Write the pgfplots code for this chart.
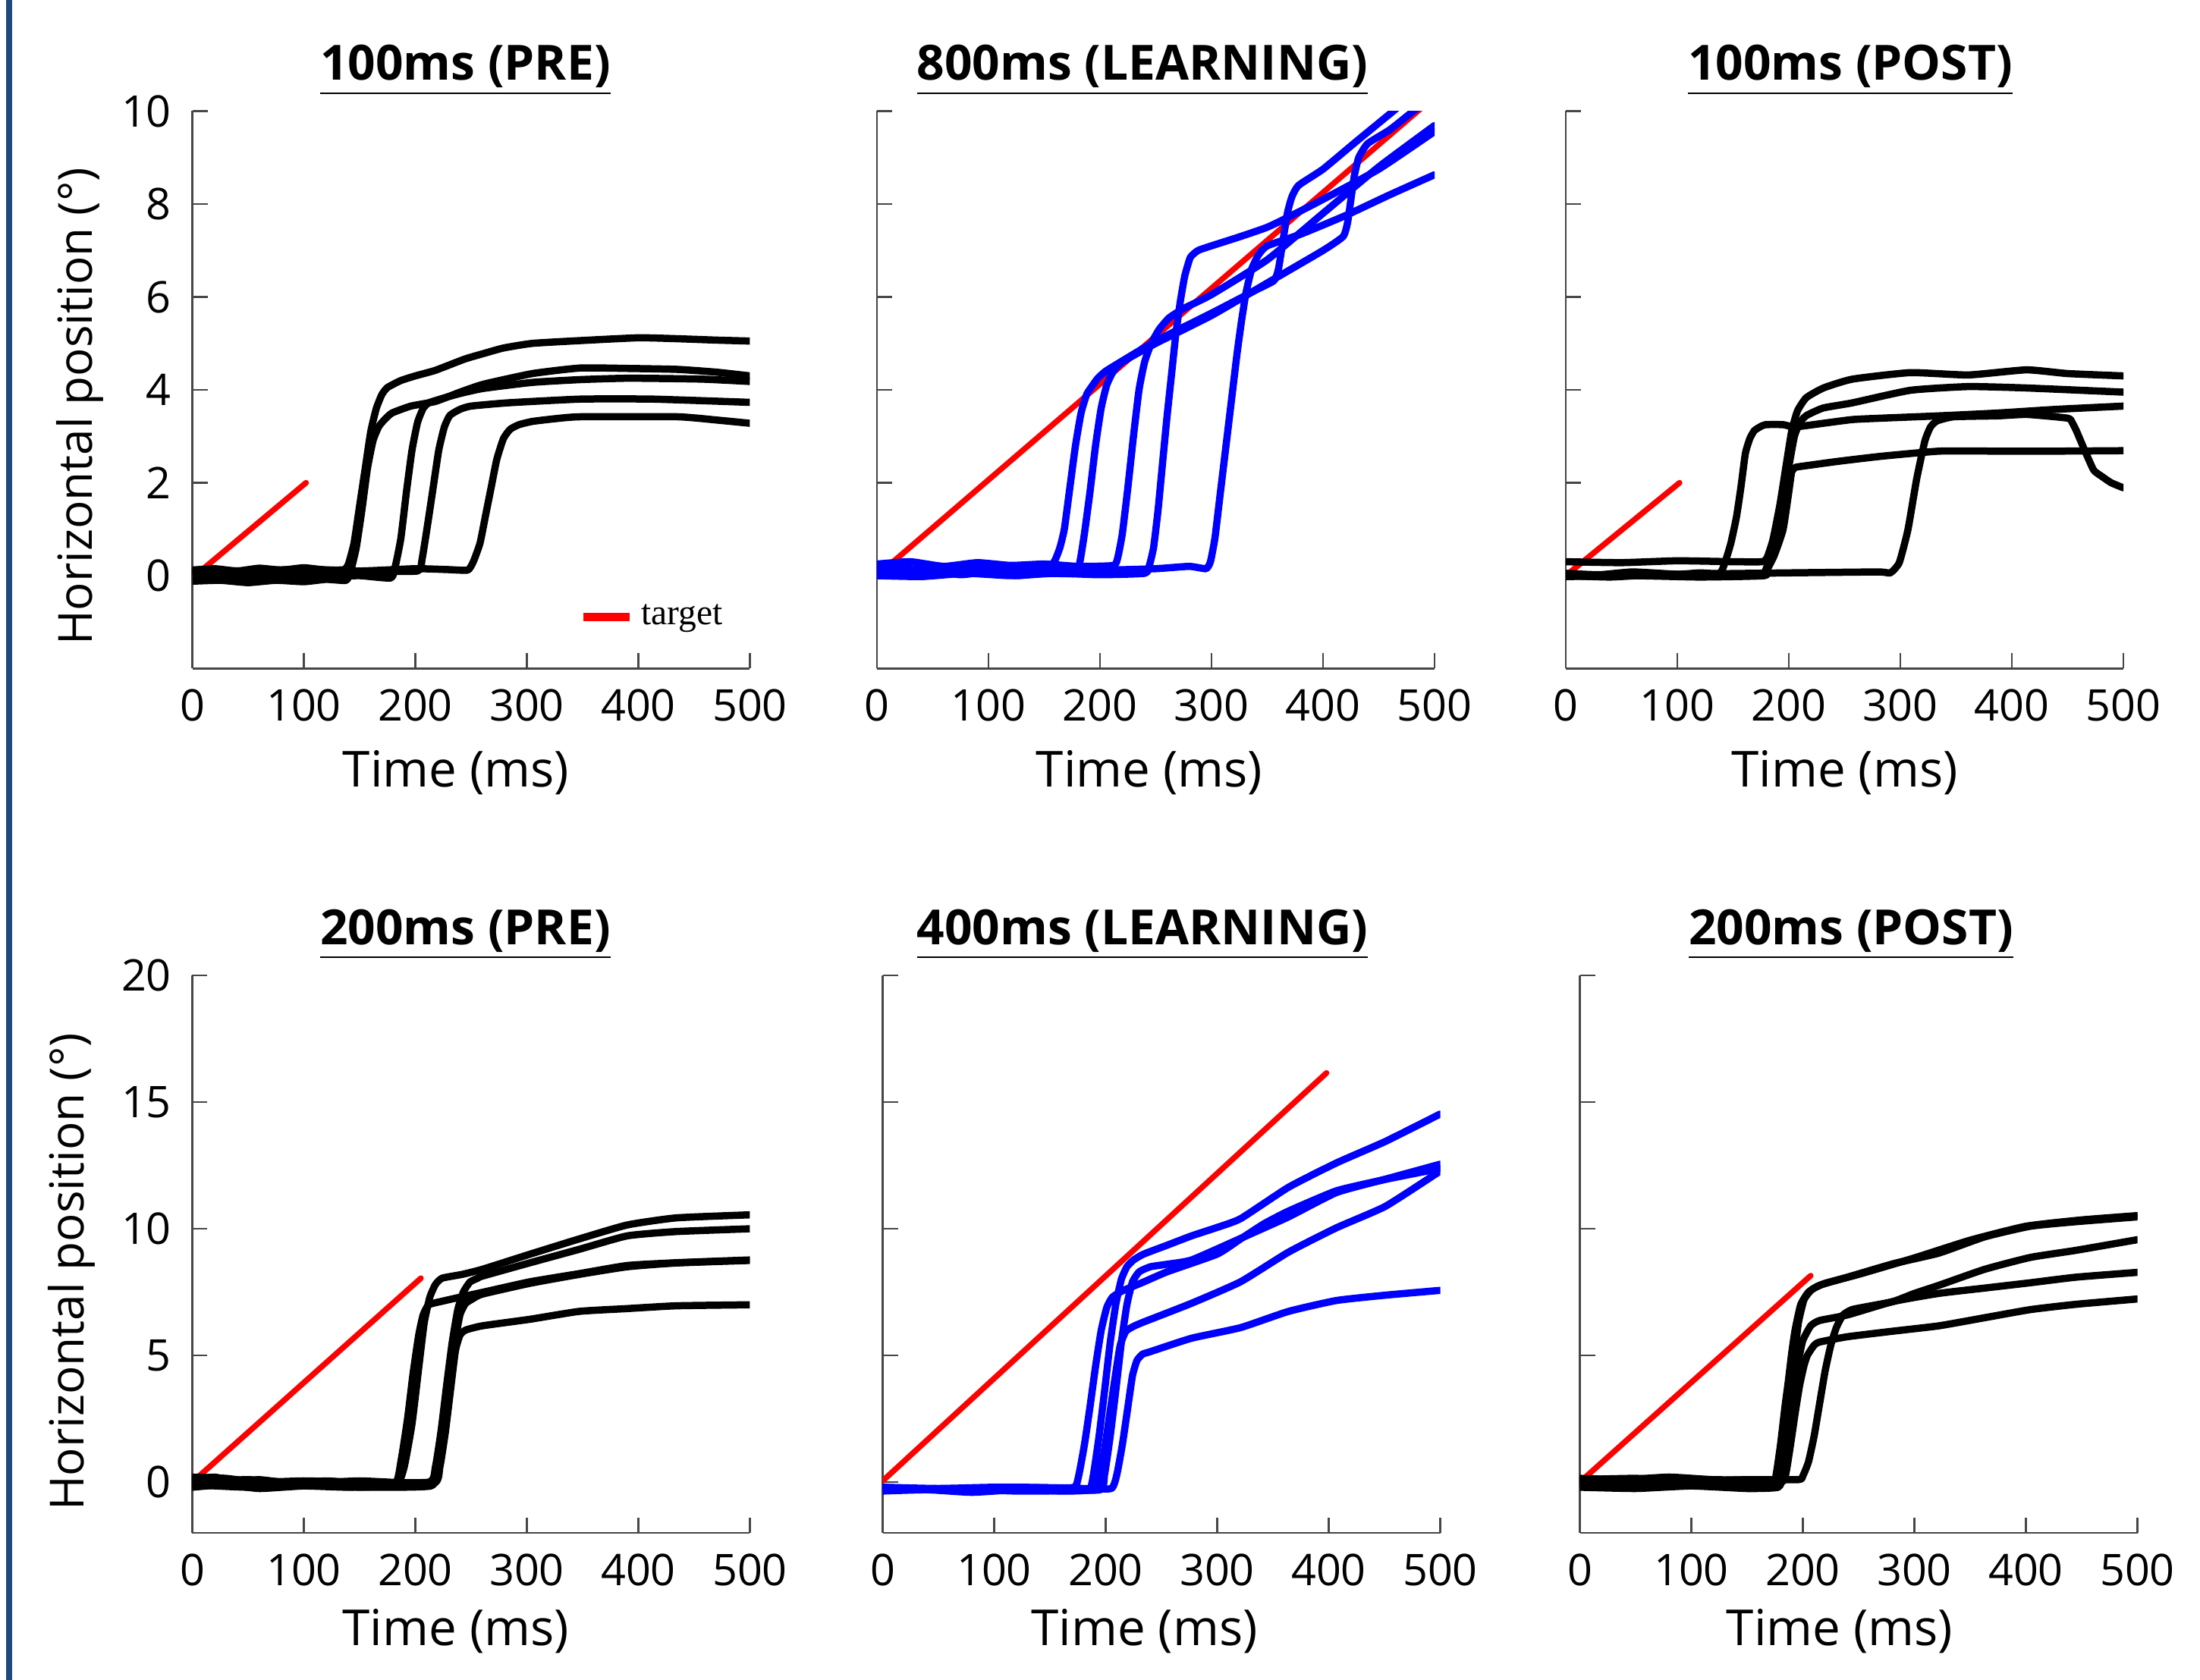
\documentclass[border=0pt]{standalone}
\usepackage{fontspec}
\setmainfont{Open Sans}
\newfontfamily\serifleg{Liberation Serif}
\usepackage{pgfplots}
\pgfplotsset{compat=1.18}
\definecolor{barblue}{RGB}{31,73,125}
\definecolor{axgray}{RGB}{70,70,70}
\pgfplotsset{
  every non boxed x axis/.style={},
  every non boxed y axis/.style={},
  panel/.style={
    scale only axis, width=147pt, height=147pt, anchor=south west,
    axis x line*=bottom, axis y line*=left,
    axis line style={-, draw=axgray, line width=0.5pt},
    tick align=inside, major tick length=4pt,
    tick style={draw=axgray, line width=0.5pt},
    xmin=0, xmax=500, xtick={0,100,200,300,400,500},
    /pgf/number format/assume math mode=true,
    ticklabel style={font=\fontsize{11.5}{12}\selectfont},
    xticklabel style={yshift=-2pt},
    yticklabel style={xshift=-2pt},
    xlabel={Time (ms)},
    every axis x label/.style={at={(axis description cs:0.5,-0.186)}, anchor=center, font=\fontsize{13.1}{14}\selectfont},
    every axis y label/.style={at={(axis description cs:-0.201,0.47)}, rotate=90, anchor=center, font=\fontsize{12.4}{13}\selectfont},
    title style={font=\bfseries\fontsize{12.8}{13}\selectfont, at={(0.5,1)}, anchor=south, yshift=-5.4pt},
    clip=true,
  },
  toprow/.style={panel, ymin=-2, ymax=10, ytick={0,2,4,6,8,10}},
  botrow/.style={panel, ymin=-2, ymax=20, ytick={0,5,10,15,20},
    every axis x label/.style={at={(axis description cs:0.5,-0.176)}, anchor=center, font=\fontsize{13.1}{14}\selectfont},
    every axis y label/.style={at={(axis description cs:-0.216,0.468)}, rotate=90, anchor=center, font=\fontsize{12.4}{13}\selectfont}},
  blk/.style={black, line width=1.9pt, line join=round, line cap=round, smooth, tension=0.3},
  blu/.style={blue, line width=1.9pt, line join=round, line cap=round, smooth, tension=0.3},
  tgt/.style={red, line width=1.5pt, line cap=round},
}
\begin{document}
\begin{tikzpicture}
\path[use as bounding box] (0,0) rectangle (580pt,443pt);
\fill[barblue] (1.5pt,0pt) rectangle (3.1pt,443pt);

% ---------- 100ms (PRE)
\begin{axis}[toprow, at={(50.7pt,266.7pt)}, title={\underline{100ms (PRE)}},
  title style={xshift=-1.5pt}, xlabel style={xshift=-4pt},
  ylabel={Horizontal position (°)},
  legend style={at={(0.672,0.092)}, anchor=west, draw=none, fill=none,
    font=\serifleg\fontsize{9.5}{10}\selectfont},
  legend image code/.code={\draw[#1] (0cm,0cm) -- (0.43cm,0cm);}]
\addlegendimage{red, line width=2.2pt}
\addlegendentry{target}
\addplot[tgt, forget plot] coordinates {(0,-0.05) (102,2.0)};
\addplot[blk, forget plot] coordinates {(0,0.12) (20,0.15) (40,0.1) (60,0.16) (80,0.12) (100,0.17) (120,0.12) (136,0.13) (140,0.25) (145,0.7) (150,1.5) (155,2.3) (160,3.1) (165,3.6) (170,3.9) (175,4.05) (187,4.2) (200,4.3) (218,4.42) (244,4.66) (261,4.78) (279,4.9) (305,5.0) (348,5.06) (400,5.12) (435,5.1) (470,5.07) (500,5.05)};
\addplot[blk, forget plot] coordinates {(0,-0.12) (25,-0.1) (50,-0.15) (75,-0.1) (100,-0.13) (120,-0.08) (138,-0.1) (142,0.1) (147,0.6) (152,1.4) (157,2.3) (162,2.9) (167,3.2) (172,3.35) (179,3.5) (196,3.65) (218,3.75) (240,3.95) (261,4.12) (305,4.35) (348,4.47) (392,4.46) (435,4.44) (470,4.38) (500,4.3)};
\addplot[blk, forget plot] coordinates {(0,0.0) (30,0.03) (60,-0.03) (90,0.02) (120,-0.02) (150,0.0) (178,-0.05) (182,0.2) (187,0.8) (192,1.8) (197,2.7) (202,3.3) (207,3.6) (212,3.72) (225,3.82) (240,3.92) (261,4.03) (305,4.16) (348,4.22) (392,4.25) (457,4.23) (500,4.18)};
\addplot[blk, forget plot] coordinates {(0,0.08) (40,0.05) (80,0.1) (120,0.06) (160,0.1) (202,0.1) (206,0.35) (211,1.1) (216,1.9) (221,2.7) (226,3.2) (231,3.45) (240,3.58) (250,3.65) (283,3.72) (348,3.8) (413,3.8) (500,3.73)};
\addplot[blk, forget plot] coordinates {(0,0.12) (50,0.1) (100,0.14) (150,0.1) (200,0.15) (230,0.13) (247,0.12) (252,0.3) (258,0.7) (263,1.3) (268,1.9) (273,2.5) (279,2.95) (285,3.15) (293,3.25) (305,3.32) (326,3.38) (348,3.42) (435,3.42) (470,3.35) (500,3.28)};
\end{axis}

% ---------- 800ms (LEARNING)
\begin{axis}[toprow, at={(231.2pt,266.7pt)}, title={\underline{800ms (LEARNING)}}, title style={xshift=-3.5pt}, xlabel style={xshift=-1.7pt}, yticklabels={}]
\addplot[tgt] coordinates {(0,0) (500,10.31)};
\addplot[blu] coordinates {(0,0.15) (20,0.2) (40,0.1) (60,0.18) (80,0.12) (100,0.2) (120,0.15) (140,0.2) (152,0.18) (156,0.2) (160,0.35) (164,0.6) (168,1.0) (173,1.9) (178,2.8) (183,3.5) (188,3.9) (192,4.05) (198,4.25) (205,4.4) (215,4.55) (250,5.05) (300,5.65) (340,6.15) (356,6.35) (360,6.6) (364,7.2) (368,7.8) (372,8.15) (378,8.4) (400,8.75) (430,9.35) (463,10.0) (475,10.25)};
\addplot[blu] coordinates {(0,0.05) (25,0.0) (50,0.1) (75,0.02) (100,0.08) (125,0.0) (150,0.05) (178,0.05) (182,0.3) (186,0.9) (191,1.8) (196,2.8) (201,3.6) (206,4.1) (212,4.4) (220,4.6) (250,5.0) (300,5.6) (350,6.3) (400,7.0) (418,7.3) (422,7.6) (425,8.1) (428,8.6) (432,9.0) (440,9.3) (460,9.6) (481,10.0) (495,10.25)};
\addplot[blu] coordinates {(0,0.25) (30,0.3) (60,0.2) (90,0.28) (120,0.22) (150,0.25) (180,0.2) (212,0.22) (216,0.4) (220,0.9) (225,1.9) (230,3.0) (235,4.0) (240,4.6) (246,5.0) (253,5.3) (262,5.55) (275,5.75) (300,6.05) (350,6.8) (400,7.8) (450,8.8) (500,9.69)};
\addplot[blu] coordinates {(0,0.0) (40,-0.02) (80,0.05) (120,0.0) (160,0.05) (200,0.02) (240,0.05) (244,0.2) (248,0.6) (252,1.4) (256,2.4) (260,3.4) (264,4.3) (268,5.2) (272,5.9) (276,6.45) (281,6.85) (288,7.0) (300,7.1) (326,7.3) (350,7.5) (370,7.73) (400,8.1) (450,8.75) (500,9.56)};
\addplot[blu] coordinates {(0,0.12) (50,0.15) (100,0.1) (150,0.18) (200,0.12) (250,0.15) (280,0.2) (295,0.15) (299,0.3) (303,0.8) (307,1.6) (311,2.4) (315,3.2) (319,4.0) (323,4.8) (327,5.5) (331,6.1) (336,6.6) (342,6.9) (350,7.1) (380,7.35) (420,7.75) (460,8.2) (500,8.63)};
\end{axis}

% ---------- 100ms (POST)
\begin{axis}[toprow, at={(412.8pt,266.7pt)}, title={\underline{100ms (POST)}}, title style={xshift=1.5pt}, yticklabels={}]
\addplot[tgt] coordinates {(0,0) (102,2.0)};
\addplot[blk] coordinates {(0,0.05) (30,0.02) (60,0.08) (100,0.03) (120,0.06) (138,0.05) (142.7,0.28) (148,0.7) (153,1.26) (157,1.9) (161,2.63) (165,2.95) (169,3.12) (174,3.2) (179,3.25) (195,3.25) (205,3.2) (231,3.28) (257,3.36) (283,3.39) (335,3.44) (387,3.5) (440,3.58) (500,3.65)};
\addplot[blk] coordinates {(0,0.3) (50,0.28) (100,0.32) (150,0.3) (176,0.3) (180.5,0.39) (185.7,0.77) (192,1.53) (197.4,2.35) (202.6,3.12) (207.8,3.55) (215.6,3.83) (231,4.04) (257,4.23) (309,4.37) (361,4.32) (413,4.43) (450,4.35) (500,4.3)};
\addplot[blk] coordinates {(0,0.0) (40,-0.03) (80,0.02) (120,-0.02) (160,0.0) (177,0.02) (179,0.11) (184,0.44) (192,1.26) (200,2.35) (205,3.0) (210,3.3) (216,3.45) (231,3.61) (257,3.72) (309,3.99) (361,4.07) (413,4.04) (500,3.95)};
\addplot[blk] coordinates {(0,-0.02) (60,0.0) (120,-0.03) (178,0.0) (181,0.15) (187,0.44) (194.8,0.99) (200,1.81) (202.6,2.24) (206,2.33) (210.4,2.35) (244,2.46) (283,2.57) (335,2.68) (387,2.68) (440,2.68) (500,2.69)};
\addplot[blk] coordinates {(0,0.0) (100,0.03) (200,0.06) (280,0.08) (291,0.06) (299,0.28) (306.8,0.99) (314.6,2.08) (322,2.9) (327,3.2) (332.8,3.33) (348,3.42) (387.5,3.44) (413.5,3.47) (450,3.39) (454,3.3) (457.8,3.12) (465.6,2.68) (473.4,2.27) (481,2.13) (489,2.0) (500,1.89)};
\end{axis}

% ---------- 200ms (PRE)
\begin{axis}[botrow, at={(50.7pt,38.8pt)}, title={\underline{200ms (PRE)}}, title style={xshift=-1.5pt}, xlabel style={xshift=-4pt}, ylabel={Horizontal position (°)}]
\addplot[tgt] coordinates {(0,0) (205,8.05)};
\addplot[blk] coordinates {(0,0.1) (20,0.2) (40,0.0) (60,0.1) (90,-0.05) (120,0.05) (150,-0.05) (183,-0.1) (190,0.6) (197,2.3) (203,4.5) (208,6.3) (213,7.3) (218,7.8) (224,8.05) (242,8.2) (260,8.4) (303,9.0) (347,9.6) (390,10.15) (434,10.43) (500,10.55)};
\addplot[blk] coordinates {(0,-0.2) (30,-0.1) (60,-0.25) (100,-0.15) (140,-0.2) (181,-0.1) (187,0.8) (193,2.5) (198,4.3) (203,5.8) (207,6.6) (212,7.0) (225,7.15) (238,7.28) (260,7.49) (303,7.91) (347,8.23) (390,8.55) (434,8.66) (500,8.77)};
\addplot[blk] coordinates {(0,0.2) (30,0.15) (60,0.0) (100,0.05) (150,0.0) (212,0.0) (218,0.6) (223,2.0) (228,3.8) (233,5.5) (238,6.8) (243,7.5) (249,7.9) (256,8.05) (260,8.13) (303,8.66) (347,9.19) (390,9.72) (434,9.89) (500,10.0)};
\addplot[blk] coordinates {(0,-0.1) (50,-0.2) (100,-0.1) (150,-0.2) (214,-0.15) (220,0.6) (225,2.0) (230,3.8) (235,5.4) (240,6.6) (245,7.05) (252,7.25) (260,7.42) (303,7.85) (347,8.2) (390,8.5) (434,8.65) (500,8.75)};
\addplot[blk] coordinates {(0,0.0) (50,0.1) (100,-0.05) (150,0.05) (216,-0.05) (222,0.6) (227,2.0) (232,3.8) (236,5.2) (240,5.8) (245,6.0) (260,6.17) (303,6.43) (347,6.74) (390,6.85) (434,6.96) (500,7.0)};
\end{axis}

% ---------- 400ms (LEARNING)
\begin{axis}[botrow, at={(232.7pt,38.8pt)}, title={\underline{400ms (LEARNING)}}, title style={xshift=-5pt}, xlabel style={xshift=-4.5pt}, yticklabels={}]
\addplot[tgt] coordinates {(0,0.05) (398,16.15)};
\addplot[blu] coordinates {(0,-0.2) (50,-0.25) (100,-0.2) (150,-0.22) (172,-0.2) (176,0.3) (181,1.5) (186,3.0) (191,4.6) (196,6.0) (201,6.9) (206,7.3) (215,7.55) (234,7.9) (255,8.3) (300,9.0) (321,9.6) (342,10.2) (364,10.7) (407,11.5) (451,11.95) (500,12.38)};
\addplot[blu] coordinates {(0,-0.35) (40,-0.3) (80,-0.4) (120,-0.3) (160,-0.35) (185,-0.3) (189,0.3) (194,1.8) (199,3.6) (204,5.5) (209,7.0) (214,8.0) (219,8.5) (225,8.77) (234,9.0) (255,9.35) (277,9.72) (299,10.04) (321,10.4) (364,11.64) (407,12.6) (451,13.45) (500,14.53)};
\addplot[blu] coordinates {(0,-0.25) (50,-0.3) (100,-0.25) (150,-0.3) (195,-0.3) (199,0.3) (204,1.8) (209,3.6) (214,5.5) (219,7.0) (224,7.9) (230,8.3) (240,8.5) (255,8.6) (277,8.77) (321,9.62) (364,10.47) (407,11.43) (451,11.96) (500,12.55)};
\addplot[blu] coordinates {(0,-0.3) (60,-0.25) (120,-0.35) (190,-0.3) (194,0.2) (199,1.3) (204,2.8) (209,4.3) (213,5.4) (218,5.95) (225,6.15) (234,6.32) (277,7.06) (321,7.91) (364,9.08) (407,10.04) (451,10.89) (500,12.28)};
\addplot[blu] coordinates {(0,-0.2) (60,-0.3) (120,-0.2) (180,-0.25) (205,-0.25) (210,0.3) (215,1.5) (220,3.0) (224,4.2) (228,4.8) (233,5.05) (240,5.15) (277,5.68) (321,6.1) (364,6.74) (407,7.17) (451,7.38) (500,7.57)};
\end{axis}

% ---------- 200ms (POST)
\begin{axis}[botrow, at={(416.5pt,38.8pt)}, title={\underline{200ms (POST)}}, title style={xshift=-2pt}, xlabel style={xshift=-5pt}, yticklabels={}]
\addplot[tgt] coordinates {(0,0) (207,8.15)};
\addplot[blk] coordinates {(0,-0.1) (40,0.0) (80,-0.15) (120,-0.05) (172,-0.1) (176,0.3) (180,1.5) (184,3.0) (187,4.0) (190,5.1) (193,6.0) (198,7.0) (205,7.5) (215,7.77) (240,8.09) (281,8.62) (322,9.04) (363,9.68) (404,10.1) (445,10.28) (500,10.47)};
\addplot[blk] coordinates {(0,0.15) (40,0.1) (80,0.2) (120,0.1) (175,0.1) (179,0.4) (183,1.5) (187,2.9) (190,4.0) (193,5.2) (196,6.3) (201,7.2) (208,7.6) (220,7.85) (250,8.2) (300,8.85) (350,9.55) (400,10.1) (450,10.35) (500,10.52)};
\addplot[blk] coordinates {(0,-0.2) (50,-0.25) (100,-0.15) (150,-0.25) (178,-0.2) (182,0.3) (186,1.5) (190,2.8) (193,4.0) (197,5.0) (200,5.6) (207,6.17) (215,6.38) (240,6.6) (281,7.13) (322,7.45) (363,7.66) (404,7.87) (445,8.09) (500,8.28)};
\addplot[blk] coordinates {(0,0.05) (50,0.0) (100,0.1) (150,0.0) (181,0.0) (185,0.4) (189,1.5) (193,2.7) (197,3.8) (201,4.6) (204,5.0) (210,5.4) (215,5.53) (240,5.74) (281,5.96) (322,6.17) (363,6.49) (404,6.81) (445,7.02) (500,7.23)};
\addplot[blk] coordinates {(0,0.1) (50,0.15) (100,0.05) (150,0.1) (196,0.1) (200,0.25) (205,0.8) (210,1.8) (215,3.1) (220,4.4) (225,5.4) (230,6.1) (236,6.6) (244,6.81) (260,6.95) (281,7.13) (300,7.45) (322,7.77) (363,8.4) (404,8.87) (445,9.15) (500,9.57)};
\end{axis}
\end{tikzpicture}
\end{document}
